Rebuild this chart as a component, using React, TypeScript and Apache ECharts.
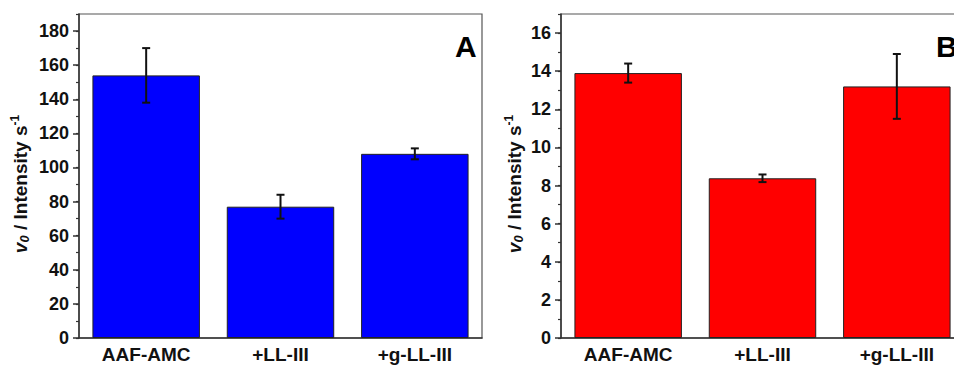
import React, { useEffect, useRef } from "react";
import * as echarts from "echarts";

const categories = ["AAF-AMC", "+LL-III", "+g-LL-III"];
const valuesA = [154, 77, 108];
const errorsA = [16, 7, 3.2];
const valuesB = [13.9, 8.38, 13.2];
const errorsB = [0.5, 0.2, 1.7];
const yTicksA = { max: 190, interval: 20, minor: 10 };
const yTicksB = { max: 17, interval: 2, minor: 1 };
const panelLabels = ["A", "B"];

const FONT = "'Liberation Sans', Arial, sans-serif";

function errData(values: number[], errs: number[]) {
  return values.map((v, i) => [i, v - errs[i], v + errs[i]]);
}

function renderErr(params: any, api: any) {
  const i = api.value(0);
  const lo = api.coord([i, api.value(1)]);
  const hi = api.coord([i, api.value(2)]);
  const w = 4;
  const style = { stroke: "#111", lineWidth: 2 };
  return {
    type: "group",
    children: [
      { type: "line", shape: { x1: lo[0], y1: lo[1], x2: hi[0], y2: hi[1] }, style },
      { type: "line", shape: { x1: lo[0] - w, y1: lo[1], x2: lo[0] + w, y2: lo[1] }, style },
      { type: "line", shape: { x1: hi[0] - w, y1: hi[1], x2: hi[0] + w, y2: hi[1] }, style },
    ],
  };
}

const nameRich = {
  v: { fontSize: 19, fontWeight: "bold", fontStyle: "italic", fontFamily: FONT, color: "#111", lineHeight: 22, verticalAlign: "middle" },
  sub: { fontSize: 13, fontWeight: "bold", fontStyle: "italic", fontFamily: FONT, color: "#111", lineHeight: 22, verticalAlign: "bottom", padding: [7, 0, 0, 0] },
  t: { fontSize: 19, fontWeight: "bold", fontFamily: FONT, color: "#111", lineHeight: 22, verticalAlign: "middle" },
  sup: { fontSize: 12, fontWeight: "bold", fontFamily: FONT, color: "#111", lineHeight: 22, verticalAlign: "top", padding: [0, 0, 7, 0] },
};

export default function App() {
  const ref = useRef<HTMLDivElement>(null);
  useEffect(() => {
    if (!ref.current) return;
    const chart = echarts.init(ref.current, undefined, { renderer: "svg" });
    const grids = [
      { left: 79, top: 14, width: 403, height: 324 },
      { left: 561, top: 14, width: 403, height: 324 },
    ];
    const ticks = [yTicksA, yTicksB];
    const nameGaps = [48, 36];
    const xAxis: any[] = [];
    const yAxis: any[] = [];
    grids.forEach((g, gi) => {
      xAxis.push({
        type: "category",
        gridIndex: gi,
        data: categories,
        axisLine: { lineStyle: { color: "#333", width: 1.5 } },
        axisTick: { alignWithLabel: true, length: 6, lineStyle: { color: "#333", width: 1.5 } },
        axisLabel: { fontSize: 19, fontWeight: "bold", fontFamily: FONT, color: "#111", margin: 7 },
      });
      xAxis.push({
        type: "category",
        gridIndex: gi,
        data: categories,
        position: "bottom",
        axisLine: { show: false },
        axisTick: { alignWithLabel: false, length: 3, lineStyle: { color: "#333", width: 1.2 } },
        axisLabel: { show: false },
      });
      yAxis.push({
        type: "value",
        gridIndex: gi,
        position: "left",
        min: 0,
        max: ticks[gi].max,
        interval: ticks[gi].interval,
        splitLine: { show: false },
        axisLine: { show: true, lineStyle: { color: "#333", width: 1.5 } },
        axisTick: { show: true, length: 6, lineStyle: { color: "#333", width: 1.5 } },
        axisLabel: { fontSize: 18, fontWeight: "bold", fontFamily: FONT, color: "#111", margin: 10, showMaxLabel: false },
        name: "{v|v}{sub|0}{t| / Intensity s}{sup|-1}",
        nameLocation: "middle",
        nameGap: nameGaps[gi],
        nameTextStyle: { rich: nameRich, padding: [0, 16, 0, 0] },
      });
      yAxis.push({
        type: "value",
        gridIndex: gi,
        position: "left",
        offset: 0,
        min: 0,
        max: ticks[gi].max,
        interval: ticks[gi].minor,
        splitLine: { show: false },
        axisLine: { show: false },
        axisTick: { show: true, length: 3, lineStyle: { color: "#333", width: 1.2 } },
        axisLabel: { show: false },
      });
    });
    const option: any = {
      animation: false,
      grid: grids.map((g) => ({
        ...g,
        show: true,
        borderColor: "#555",
        borderWidth: 1.2,
        containLabel: false,
        outerBoundsMode: "none",
      })),
      xAxis,
      yAxis,
      graphic: [
        { type: "text", left: 455, top: 31, style: { text: panelLabels[0], fontSize: 30, fontWeight: "bold", fontFamily: FONT, fill: "#000" } },
        { type: "text", left: 936, top: 31, style: { text: panelLabels[1], fontSize: 30, fontWeight: "bold", fontFamily: FONT, fill: "#000" } },
      ],
      series: [
        {
          type: "bar",
          xAxisIndex: 0,
          yAxisIndex: 0,
          data: valuesA,
          barWidth: "80%",
          itemStyle: { color: "#0000FF", borderColor: "#222", borderWidth: 1 },
        },
        {
          type: "custom",
          xAxisIndex: 0,
          yAxisIndex: 0,
          data: errData(valuesA, errorsA),
          renderItem: renderErr,
          z: 5,
        },
        {
          type: "bar",
          xAxisIndex: 2,
          yAxisIndex: 2,
          data: valuesB,
          barWidth: "80%",
          itemStyle: { color: "#FF0000", borderColor: "#222", borderWidth: 1 },
        },
        {
          type: "custom",
          xAxisIndex: 2,
          yAxisIndex: 2,
          data: errData(valuesB, errorsB),
          renderItem: renderErr,
          z: 5,
        },
      ],
    };
    chart.setOption(option);
    return () => chart.dispose();
  }, []);
  return (
    <div
      ref={ref}
      style={{ position: "absolute", left: 0, top: 0, width: 954, height: 365, background: "#fff" }}
    />
  );
}
